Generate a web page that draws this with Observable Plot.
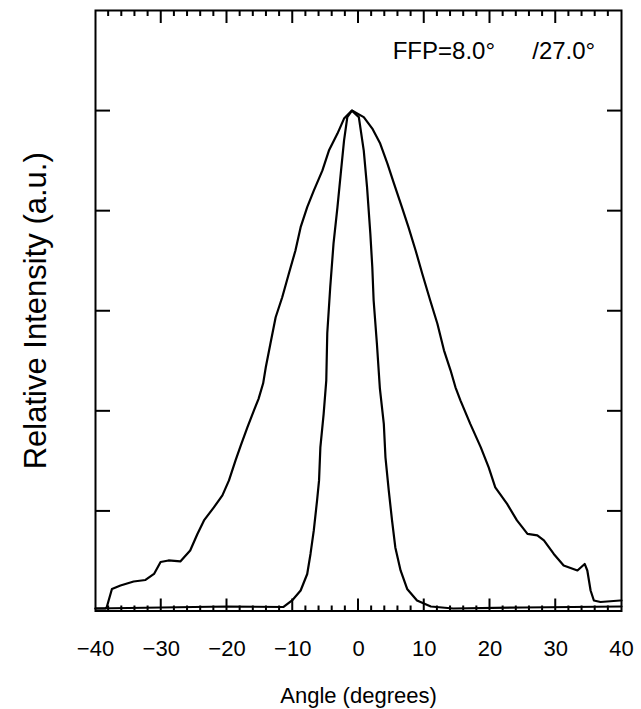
<!DOCTYPE html>
<html>
<head>
<meta charset="utf-8">
<script src="https://cdn.jsdelivr.net/npm/d3@7"></script>
<script src="https://cdn.jsdelivr.net/npm/@observablehq/plot@0.6"></script>
<style>
  html, body { margin: 0; padding: 0; background: #fff; }
  svg { font-family: "Liberation Sans", Arial, Helvetica, sans-serif; }
</style>
</head>
<body>
<div id="chart"></div>
<script>
// Wide far-field pattern (FWHM 27.0 deg)
const wideAngle = [-40, -38.5, -38.3, -38.0, -37.5, -36.2, -34.2, -32.4, -31.1, -30.1, -28.9, -27.1, -25.6, -24.5, -23.5, -22.0, -20.7, -19.7, -18.7, -17.9, -16.9, -15.9, -15.2, -14.5, -14.1, -13.4, -12.6, -11.6, -10.6, -9.6, -8.8, -7.8, -6.8, -5.5, -4.5, -3.2, -2.2, -1.0, 0.8, 2.1, 3.3, 4.4, 5.4, 6.6, 7.6, 8.7, 9.7, 10.9, 12.0, 13.0, 14.0, 14.75, 15.5, 17.0, 18.6, 19.8, 20.8, 22.6, 24.1, 25.7, 27.2, 28.2, 29.7, 31.2, 33.3, 34.4, 34.8, 35.3, 35.8, 36.8, 39.8, 40];
const wideIntensity = [0.005, 0.005, 0.007, 0.021, 0.044, 0.051, 0.059, 0.062, 0.074, 0.098, 0.101, 0.099, 0.121, 0.154, 0.181, 0.207, 0.231, 0.261, 0.301, 0.331, 0.367, 0.401, 0.424, 0.455, 0.487, 0.534, 0.587, 0.627, 0.674, 0.720, 0.767, 0.807, 0.840, 0.880, 0.920, 0.954, 0.984, 1.0, 0.987, 0.964, 0.934, 0.894, 0.854, 0.807, 0.767, 0.720, 0.674, 0.621, 0.574, 0.521, 0.481, 0.447, 0.421, 0.374, 0.327, 0.287, 0.247, 0.214, 0.181, 0.154, 0.151, 0.141, 0.114, 0.091, 0.081, 0.094, 0.081, 0.041, 0.021, 0.018, 0.021, 0.021];

// Narrow far-field pattern (FWHM 8.0 deg)
const narrowAngle = [-40, -30, -20, -11.4, -10.1, -8.8, -7.8, -7.3, -6.8, -6.3, -6.0, -5.8, -5.3, -4.9, -4.75, -4.3, -3.8, -3.2, -2.7, -2.2, -1.7, -1.0, 0.05, 0.8, 1.3, 1.8, 2.1, 2.3, 2.8, 3.25, 3.85, 4.1, 4.6, 5.1, 5.6, 6.4, 7.4, 8.9, 11.0, 14.4, 25, 40];
const narrowIntensity = [0.005, 0.007, 0.009, 0.008, 0.021, 0.041, 0.074, 0.114, 0.161, 0.221, 0.261, 0.327, 0.394, 0.461, 0.555, 0.647, 0.734, 0.807, 0.874, 0.940, 0.987, 1.0, 0.987, 0.920, 0.847, 0.754, 0.687, 0.621, 0.534, 0.445, 0.374, 0.307, 0.241, 0.181, 0.127, 0.081, 0.044, 0.021, 0.009, 0.005, 0.007, 0.009];

// Axis ticks and labels
const xTickLabels = [-40, -30, -20, -10, 0, 10, 20, 30, 40];
const xMinorTicks = [-38, -36, -34, -32, -28, -26, -24, -22, -18, -16, -14, -12, -8, -6, -4, -2, 2, 4, 6, 8, 12, 14, 16, 18, 22, 24, 26, 28, 32, 34, 36, 38];
const xMajorTicks = [-30, -20, -10, 0, 10, 20, 30];
const yTicks = [0.2, 0.4, 0.6, 0.8, 1.0];
const annotLeft = "FFP=8.0°";
const annotRight = "/27.0°";
const annotX = [5.2, 36.0];
const annotY = 1.104;

const wide = wideAngle.map((a, i) => ({angle: a, value: wideIntensity[i]}));
const narrow = narrowAngle.map((a, i) => ({angle: a, value: narrowIntensity[i]}));

const W = 641, H = 709;
const mL = 95, mR = 20, mT = 10, mB = 98.5;
const xMin = -40, xMax = 40, yMax = 1.2;
const frameW = W - mL - mR, frameH = H - mT - mB;
const pxY = yMax / frameH;             // data units per pixel, vertical
const pxX = (xMax - xMin) / frameW;    // data units per pixel, horizontal
const tickHalfW = 1.0 * pxX;           // half the stroke width of x ticks

// inward tick rectangles along top and bottom edges
const tickRects = [];
function addTicks(arr, len, top) {
  for (const v of arr) {
    tickRects.push({
      x1: v - tickHalfW, x2: v + tickHalfW,
      y1: top ? yMax : 0,
      y2: top ? yMax - len * pxY : len * pxY
    });
  }
}
addTicks(xMinorTicks, 6, true);
addTicks(xMajorTicks, 13, true);
addTicks(xMinorTicks, 5, false);
addTicks(xMajorTicks, 12, false);

const chart = Plot.plot({
  width: W,
  height: H,
  marginLeft: mL,
  marginRight: mR,
  marginTop: mT,
  marginBottom: mB,
  style: {fontFamily: "Liberation Sans, Arial, sans-serif", background: "#fff", color: "#000"},
  x: {domain: [xMin, xMax]},
  y: {domain: [0, yMax], axis: null},
  marks: [
    Plot.axisX({anchor: "bottom", ticks: xTickLabels, tickSize: 0, tickPadding: 29.5, fontSize: 22, label: null}),
    Plot.ruleY(yTicks, {y: d => d, insetRight: frameW - 15, stroke: "#000", strokeWidth: 2}),
    Plot.ruleY(yTicks, {y: d => d, insetLeft: frameW - 14, stroke: "#000", strokeWidth: 2}),
    Plot.frame({stroke: "#000", strokeWidth: 2}),
    Plot.line(wide, {x: "angle", y: "value", stroke: "#000", strokeWidth: 2.2, strokeLinejoin: "round"}),
    Plot.line(narrow, {x: "angle", y: "value", stroke: "#000", strokeWidth: 2.2, strokeLinejoin: "round"}),
    Plot.rect(tickRects, {x1: "x1", x2: "x2", y1: "y1", y2: "y2", fill: "#000"}),
    Plot.text([annotLeft], {x: annotX[0], y: annotY, textAnchor: "start", lineAnchor: "bottom", fontSize: 24, fill: "#000"}),
    Plot.text([annotRight], {x: annotX[1], y: annotY, textAnchor: "end", lineAnchor: "bottom", fontSize: 24, fill: "#000"}),
    Plot.text(["Angle (degrees)"], {frameAnchor: "bottom", dy: 84.5, textAnchor: "middle", lineAnchor: "middle", fontSize: 22, fill: "#000"}),
    Plot.text(["Relative Intensity (a.u.)"], {frameAnchor: "left", dx: -59, rotate: -90, textAnchor: "middle", lineAnchor: "middle", fontSize: 31, fill: "#000"})
  ]
});
document.getElementById("chart").appendChild(chart);
</script>
</body>
</html>
